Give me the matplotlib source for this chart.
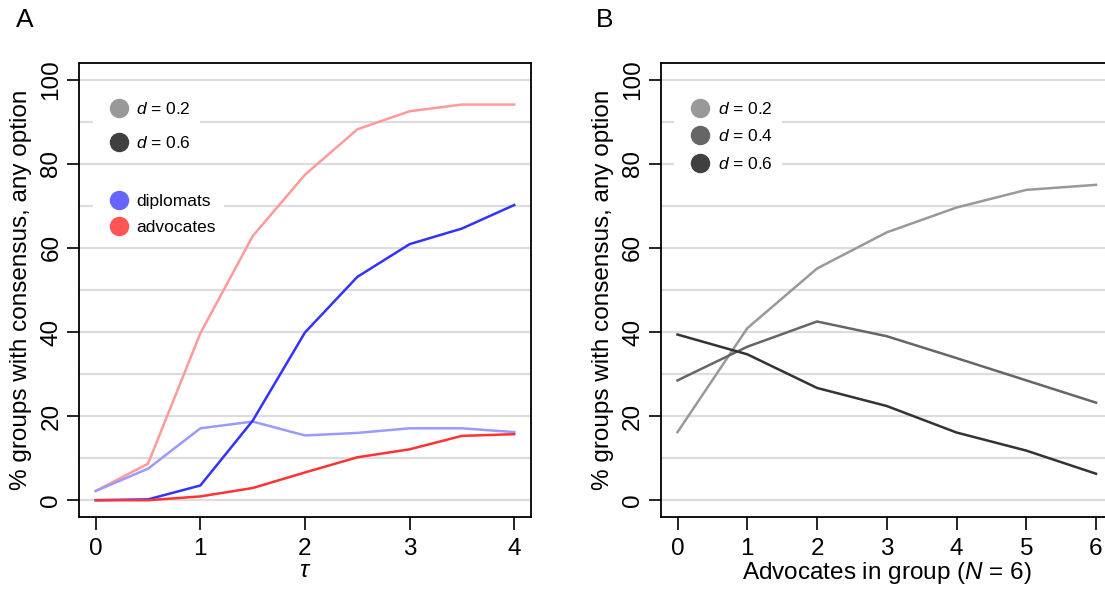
import matplotlib
matplotlib.use("Agg")
import matplotlib.pyplot as plt
from matplotlib.lines import Line2D

plt.rcParams['font.family'] = ['Liberation Sans', 'DejaVu Sans']
plt.rcParams['mathtext.fontset'] = 'custom'
plt.rcParams['mathtext.rm'] = 'Liberation Sans'
plt.rcParams['mathtext.it'] = 'Liberation Sans:italic'

# Panel A data
tau = [0, 0.5, 1, 1.5, 2, 2.5, 3, 3.5, 4]
adv_d02 = [2.2, 8.7, 39.7, 62.8, 77.4, 88.2, 92.5, 94.1, 94.1]
dip_d02 = [2.2, 7.5, 17.1, 18.7, 15.4, 16.0, 17.1, 17.1, 16.2]
dip_d06 = [0.0, 0.2, 3.5, 18.9, 39.9, 53.1, 60.9, 64.6, 70.2]
adv_d06 = [0.0, 0.0, 0.9, 2.9, 6.6, 10.2, 12.1, 15.3, 15.7]

# Panel B data
n_adv = [0, 1, 2, 3, 4, 5, 6]
b_d02 = [16.2, 40.9, 55.1, 63.7, 69.6, 73.8, 75.0]
b_d04 = [28.5, 36.5, 42.5, 39.0, 33.8, 28.5, 23.2]
b_d06 = [39.4, 34.7, 26.7, 22.4, 16.1, 11.8, 6.3]

yticks = [0, 20, 40, 60, 80, 100]
ylabel = "% groups with consensus, any option"

fig = plt.figure(figsize=(11.05, 5.89), dpi=100)
axA = fig.add_axes([0.0715, 0.1222, 0.409, 0.771])
axB = fig.add_axes([0.598, 0.1222, 0.409, 0.771])

FS = 17.5
LFS = 12.5

def style(ax, xmax):
    ax.set_ylim(-4, 104)
    ax.set_xlim(-0.04 * xmax, 1.04 * xmax)
    for g in range(0, 101, 10):
        ax.axhline(g, color='#dddddd', lw=1.6, zorder=0)
    for s in ax.spines.values():
        s.set_linewidth(1.3)
        s.set_color('black')
    ax.set_yticks(yticks)
    ax.set_yticklabels([str(v) for v in yticks], rotation=90, va='center')
    ax.tick_params(axis='both', direction='out', length=9, width=1.2, labelsize=FS, pad=6)
    ax.tick_params(axis='y', pad=3)
    ax.set_ylabel(ylabel, fontsize=FS, labelpad=6)

# Panel A
style(axA, 4)
axA.set_xticks([0, 1, 2, 3, 4])
axA.plot(tau, adv_d02, color='#ff9a9a', lw=1.8, zorder=3)
axA.plot(tau, dip_d02, color='#9a9aff', lw=1.8, zorder=3)
axA.plot(tau, dip_d06, color='#3333ff', lw=1.8, zorder=4)
axA.plot(tau, adv_d06, color='#ff3333', lw=1.8, zorder=4)
axA.set_xlabel(r"$\tau$", fontsize=FS, labelpad=0)

def handles(colors, labels):
    return [Line2D([], [], marker='o', ls='none', markersize=13, color=c,
                   markeredgecolor=c, label=l) for c, l in zip(colors, labels)]

legA1 = axA.legend(handles=handles(['#999999', '#404040'], [r"$d$ = 0.2", r"$d$ = 0.6"]),
                   loc='upper left', bbox_to_anchor=(0.011, 0.955), frameon=True,
                   facecolor='white', edgecolor='none', framealpha=1, fontsize=LFS,
                   handletextpad=0.0, labelspacing=1.03, borderpad=0.5)
legA1.set_zorder(5)
axA.add_artist(legA1)
legA2 = axA.legend(handles=handles(['#6666ff', '#ff5555'], ["diplomats", "advocates"]),
                   loc='upper left', bbox_to_anchor=(0.011, 0.75), frameon=True,
                   facecolor='white', edgecolor='none', framealpha=1, fontsize=LFS,
                   handletextpad=0.0, labelspacing=0.65, borderpad=0.5)
legA2.set_zorder(5)

# Panel B
style(axB, 6)
axB.set_xticks([0, 1, 2, 3, 4, 5, 6])
axB.plot(n_adv, b_d02, color='#999999', lw=1.8, zorder=3)
axB.plot(n_adv, b_d04, color='#666666', lw=1.8, zorder=3)
axB.plot(n_adv, b_d06, color='#333333', lw=1.8, zorder=3)
axB.set_xlabel(r"Advocates in group ($N$ = 6)", fontsize=FS, labelpad=0)
legB = axB.legend(handles=handles(['#999999', '#666666', '#404040'],
                                  [r"$d$ = 0.2", r"$d$ = 0.4", r"$d$ = 0.6"]),
                  loc='upper left', bbox_to_anchor=(0.011, 0.955), frameon=True,
                  facecolor='white', edgecolor='none', framealpha=1, fontsize=LFS,
                  handletextpad=0.0, labelspacing=0.67, borderpad=0.5)
legB.set_zorder(5)

fig.text(25 / 1105, 1 - 20 / 589, "A", fontsize=19, ha='center', va='center')
fig.text(605 / 1105, 1 - 20 / 589, "B", fontsize=19, ha='center', va='center')

fig.savefig("out.png", dpi=100)
